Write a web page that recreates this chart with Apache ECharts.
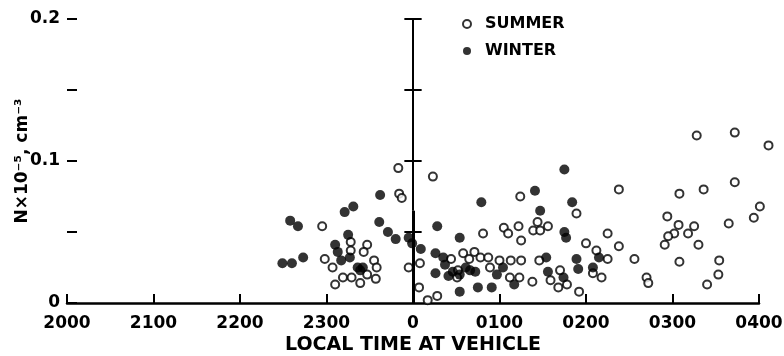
<!DOCTYPE html>
<html>
<head>
<meta charset="utf-8">
<script src="https://cdn.jsdelivr.net/npm/echarts@6/dist/echarts.min.js"></script>
<style>
html,body{margin:0;padding:0;background:#fff;}
#chart{width:784px;height:356px;}
</style>
</head>
<body>
<div id="chart"></div>
<script>
// Hours relative to local midnight at the vehicle
var timeLabels = ['2000', '2100', '2200', '2300', '0', '0100', '0200', '0300', '0400'];
var densityLabels = { '0': '0', '0.1': '0.1', '0.2': '0.2' };

var summerTime = [
  -1.05, -0.72, -0.53, -0.57, -0.72, -1.02, -0.93, -0.45, -0.42, -0.53, -0.43, -0.81, -0.71, -0.61, -0.90,
  -0.17, -0.16, -0.13, -0.05, 0.08, 0.07, 0.17, 0.28, 0.23,
  1.24, 0.81, 1.05, 1.10, 1.22, 1.25, 0.44, 0.52, 0.51, 0.58, 0.65, 0.71, 0.78, 0.87, 0.89, 1.00, 1.13, 1.25, 1.12, 1.23,
  2.38, 1.89, 1.44, 1.39, 1.47, 1.56, 2.25, 2.00, 2.38, 2.12, 1.46, 2.25, 2.56, 2.08, 1.70, 1.59, 1.38, 2.18, 1.78, 1.68, 1.92, 2.70, 2.72,
  3.28, 3.72, 4.11, 3.72, 3.36, 3.08, 4.01, 3.94, 3.65, 2.94, 3.07, 3.25, 3.02, 2.95, 3.18, 2.91, 3.30, 3.08, 3.54, 3.53, 3.40
];
var summerDensity = [
  0.054, 0.043, 0.041, 0.036, 0.037, 0.031, 0.025, 0.030, 0.025, 0.020, 0.017, 0.018, 0.018, 0.014, 0.013,
  0.095, 0.077, 0.074, 0.025, 0.028, 0.011, 0.002, 0.005, 0.089,
  0.075, 0.049, 0.053, 0.049, 0.054, 0.044, 0.031, 0.023, 0.018, 0.035, 0.031, 0.036, 0.032, 0.032, 0.025, 0.030, 0.030, 0.030, 0.018, 0.018,
  0.080, 0.063, 0.057, 0.051, 0.051, 0.054, 0.049, 0.042, 0.040, 0.037, 0.030, 0.031, 0.031, 0.021, 0.023, 0.016, 0.015, 0.018, 0.013, 0.011, 0.008, 0.018, 0.014,
  0.118, 0.120, 0.111, 0.085, 0.080, 0.077, 0.068, 0.060, 0.056, 0.061, 0.055, 0.054, 0.049, 0.047, 0.049, 0.041, 0.041, 0.029, 0.030, 0.020, 0.013
];

var winterTime = [
  -1.51, -1.40, -1.27, -1.42, -1.33, -0.79, -0.69, -0.38, -0.39, -0.29, -0.20,
  -0.75, -0.90, -0.87, -0.83, -0.73, -0.64, -0.58, -0.61,
  -0.05, -0.01, 0.09, 0.28, 0.54, 0.79, 0.26, 0.35, 0.37, 0.26, 0.41, 0.46, 0.54, 0.61, 0.66, 0.72, 0.54, 0.75, 0.91, 0.97, 1.04, 1.17,
  1.75, 1.41, 1.84, 1.47, 1.75, 1.77, 1.54, 1.89, 1.91, 2.15, 2.08, 1.56, 1.74
];
var winterDensity = [
  0.028, 0.028, 0.032, 0.058, 0.054, 0.064, 0.068, 0.076, 0.057, 0.050, 0.045,
  0.048, 0.041, 0.036, 0.030, 0.032, 0.025, 0.025, 0.023,
  0.046, 0.042, 0.038, 0.054, 0.046, 0.071, 0.035, 0.032, 0.027, 0.021, 0.019, 0.022, 0.020, 0.025, 0.023, 0.022, 0.008, 0.011, 0.011, 0.020, 0.025, 0.013,
  0.094, 0.079, 0.071, 0.065, 0.050, 0.046, 0.032, 0.031, 0.024, 0.032, 0.025, 0.022, 0.018
];

function pairs(xs, ys) {
  var out = [];
  for (var i = 0; i < xs.length; i++) out.push([xs[i], ys[i]]);
  return out;
}

var FONT = 'DejaVu Sans';
var chart = echarts.init(document.getElementById('chart'), null, { renderer: 'canvas' });

var openStyle = { color: '#fff', borderColor: '#000', borderWidth: 2 };
var fillStyle = { color: '#000', borderWidth: 0 };

// Decorative midnight reference line with crossing ticks
var midTicks = [0.05, 0.1, 0.15, 0.2];
var markData = [
  [{ coord: [0, 0], lineStyle: { width: 3 } }, { coord: [0, 0.065] }],
  [{ coord: [0, 0.065], lineStyle: { width: 2 } }, { coord: [0, 0.2] }]
];
midTicks.forEach(function (v) {
  markData.push([{ coord: [-0.1, v], lineStyle: { width: 2 } }, { coord: [0.1, v] }]);
});

chart.setOption({
  animation: false,
  backgroundColor: '#fff',
  grid: { left: 67, right: 25, top: 19, bottom: 53, containLabel: false, outerBoundsMode: 'none' },
  legend: {
    orient: 'vertical',
    left: 457,
    top: 10,
    itemWidth: 26,
    itemHeight: 8,
    itemGap: 9,
    selectedMode: false,
    textStyle: { fontFamily: FONT, fontWeight: 'bold', fontSize: 16, color: '#000', lineHeight: 18 },
    data: [
      { name: 'SUMMER', icon: 'circle', itemStyle: { color: '#fff', borderColor: '#000', borderWidth: 2 } },
      { name: 'WINTER', icon: 'circle', itemStyle: { color: '#000', borderWidth: 0 } }
    ]
  },
  xAxis: {
    type: 'value',
    min: -4,
    max: 4,
    interval: 1,
    name: 'LOCAL TIME AT VEHICLE',
    nameLocation: 'middle',
    nameGap: 33,
    nameMoveOverlap: false,
    nameTextStyle: { fontFamily: FONT, fontWeight: 'bold', fontSize: 19, color: '#000' },
    axisLine: { show: true, onZero: false, lineStyle: { color: '#000', width: 2.5 } },
    axisTick: { show: true, inside: true, length: 9, lineStyle: { color: '#000', width: 2 } },
    axisLabel: {
      show: true,
      margin: 12,
      fontFamily: FONT, fontWeight: 'bold', fontSize: 17, color: '#000',
      formatter: function (v) { return timeLabels[Math.round(v + 4)]; }
    },
    splitLine: { show: false }
  },
  yAxis: {
    type: 'value',
    min: 0,
    max: 0.2,
    interval: 0.05,
    name: 'N×10⁻⁵, cm⁻³',
    nameLocation: 'middle',
    nameGap: 36,
    nameMoveOverlap: false,
    nameTextStyle: { fontFamily: FONT, fontWeight: 'bold', fontSize: 17, color: '#000' },
    axisLine: { show: true, onZero: false, lineStyle: { color: 'rgba(0,0,0,0)', width: 1 } },
    axisTick: { show: true, inside: true, length: 10, lineStyle: { color: '#000', width: 2 } },
    axisLabel: {
      show: true,
      margin: 7,
      fontFamily: FONT, fontWeight: 'bold', fontSize: 17, color: '#000',
      formatter: function (v) {
        var k = (Math.round(v * 100) / 100).toString();
        return densityLabels[k] !== undefined ? densityLabels[k] : '';
      }
    },
    splitLine: { show: false }
  },
  series: [
    {
      name: 'SUMMER',
      type: 'scatter',
      clip: false,
      symbol: 'circle',
      symbolSize: 8,
      itemStyle: openStyle,
      data: pairs(summerTime, summerDensity),
      z: 3
    },
    {
      name: 'WINTER',
      type: 'scatter',
      clip: false,
      symbol: 'circle',
      symbolSize: 10,
      itemStyle: fillStyle,
      data: pairs(winterTime, winterDensity),
      z: 4,
      markLine: {
        silent: true,
        symbol: ['none', 'none'],
        label: { show: false },
        lineStyle: { color: '#000', type: 'solid', width: 2 },
        data: markData
      }
    }
  ]
});
</script>
</body>
</html>
